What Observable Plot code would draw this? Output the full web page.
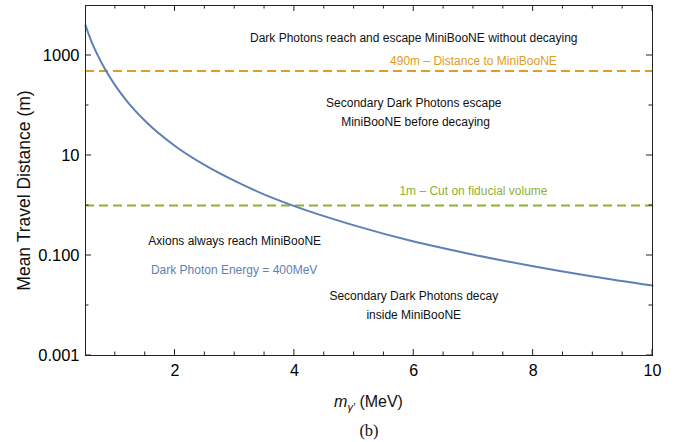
<!DOCTYPE html>
<html><head><meta charset="utf-8">
<script src="https://cdn.jsdelivr.net/npm/d3@7"></script>
<script src="https://cdn.jsdelivr.net/npm/@observablehq/plot@0.6"></script>
<style>
body{margin:0;background:#fff}
svg{font-family:"Liberation Sans",Arial,sans-serif}
</style>
</head><body><div id="c"></div>
<script>
// Curve: dark photon mass (MeV) vs mean travel distance (m)
const massMeV = [0.5, 0.6, 0.7, 0.8, 1.0, 1.2, 1.5, 2.0, 2.5, 3.0, 3.5, 4.0, 5.0, 6.0, 7.0, 8.0, 9.0, 10.0];
const travelDistance = [4000, 1900, 1040, 610, 250, 120, 49, 15.5, 6.4, 3.1, 1.65, 0.97, 0.40, 0.19, 0.104, 0.061, 0.038, 0.025];

// Reference lines
const refValues = [490, 1];
const refLabels = ["490m \u2013 Distance to MiniBooNE", "1m \u2013 Cut on fiducial volume"];

// Axis ticks
const xTicks = [2, 4, 6, 8, 10];
const xMinorTicks = [1, 1.5, 2.5, 3, 3.5, 4.5, 5, 5.5, 6.5, 7, 7.5, 8.5, 9, 9.5];
const yTicks = [0.001, 0.1, 10, 1000];
const yTickLabels = ["0.001", "0.100", "10", "1000"];
const yMinorTicks = [0.01, 1, 100];

// Annotations (text, anchor mass, anchor distance)
const noteText = [
  "Dark Photons reach and escape MiniBooNE without decaying",
  "Secondary Dark Photons escape",
  "MiniBooNE before decaying",
  "Axions always reach MiniBooNE",
  "Dark Photon Energy = 400MeV",
  "Secondary Dark Photons decay",
  "inside MiniBooNE"
];
const noteMass = [6.0, 6.0, 6.03, 3.0, 2.99, 6.0, 6.0];
const noteDist = [2188, 111, 46, 0.193, 0.05, 0.0151, 0.0063];
const noteKind = ["plain", "plain", "plain", "plain", "energy", "plain", "plain"];
const refLabelMass = [7.0, 7.0];
const refLabelDist = [769, 1.93];

const BLUE = "#5E81B5", ORANGE = "#E19C24", GREEN = "#8FB032";
const refColors = [ORANGE, GREEN];

const curve = massMeV.map((m, i) => ({m, d: travelDistance[i]}));
const refs = refValues.map((v, i) => ({v, label: refLabels[i], lm: refLabelMass[i], ld: refLabelDist[i], color: refColors[i]}));
const notes = noteText.map((t, i) => ({t, m: noteMass[i], d: noteDist[i], kind: noteKind[i]}));
const yLabelMap = new Map(yTicks.map((v, i) => [v, yTickLabels[i]]));

const chart = Plot.plot({
  width: 688,
  height: 442,
  marginLeft: 85,
  marginRight: 36,
  marginTop: 5,
  marginBottom: 87,
  style: {fontFamily: "'Liberation Sans', Arial, sans-serif", fontSize: "16px", color: "#000", background: "#fff"},
  x: {domain: [0.5, 10]},
  y: {type: "log", domain: [0.001, 10000]},
  marks: [
    Plot.axisX(xTicks, {tickSize: 0, tickPadding: 9, fontSize: 16, label: null, tickFormat: d => String(d)}),
    Plot.axisY(yTicks, {tickSize: 0, tickPadding: 6, fontSize: 16.5, label: null, tickFormat: d => yLabelMap.get(d)}),
    Plot.ruleY(refs, {y: "v", stroke: "color", strokeWidth: 2, strokeDasharray: "9,5"}),
    Plot.line(curve, {x: "m", y: "d", stroke: BLUE, strokeWidth: 2, curve: "monotone-x"}),
    Plot.text(refs, {x: "lm", y: "ld", text: "label", fill: "color", fontSize: 12}),
    Plot.text(notes, {x: "m", y: "d", text: "t", fill: d => d.kind === "energy" ? BLUE : "#111", fontSize: 12}),
    Plot.text(["Mean Travel Distance (m)"], {frameAnchor: "left", textAnchor: "middle", lineAnchor: "middle", dx: -61, dy: 10, rotate: -90, fontSize: 17.5, fill: "#111"}),
    Plot.text(["(b)"], {frameAnchor: "bottom", textAnchor: "middle", lineAnchor: "middle", dy: 75, fontSize: 16.5, fontFamily: "'Liberation Serif', 'DejaVu Serif', serif", fill: "#111"}),
    Plot.frame({stroke: "#222", strokeWidth: 1})
  ]
});

document.getElementById("c").appendChild(chart);

// Inward ticks on all four sides, positioned through Plot's scales
const xs = chart.scale("x"), ys = chart.scale("y");
const svgSel = d3.select(chart);
const tickG = svgSel.append("g").attr("stroke", "#222").attr("stroke-width", 1);
const frameTop = 5, frameBottom = 355, frameLeft = 85, frameRight = 652;
function xt(v, len) {
  const px = xs.apply(v);
  tickG.append("line").attr("x1", px).attr("x2", px).attr("y1", frameBottom).attr("y2", frameBottom - len);
  tickG.append("line").attr("x1", px).attr("x2", px).attr("y1", frameTop).attr("y2", frameTop + len);
}
function yt(v, len) {
  const py = ys.apply(v);
  tickG.append("line").attr("y1", py).attr("y2", py).attr("x1", frameLeft).attr("x2", frameLeft + len);
  tickG.append("line").attr("y1", py).attr("y2", py).attr("x1", frameRight).attr("x2", frameRight - len);
}
xTicks.forEach(v => xt(v, 6));
xMinorTicks.forEach(v => xt(v, 3.5));
yTicks.forEach(v => yt(v, 6));
yMinorTicks.forEach(v => yt(v, 3.5));

// x-axis label with italic m and subscript gamma-prime
const xl = svgSel.append("text")
  .attr("x", (xs.apply(0.5) + xs.apply(10)) / 2)
  .attr("y", 407)
  .attr("text-anchor", "middle")
  .attr("font-size", 16)
  .attr("fill", "#111");
xl.append("tspan").attr("font-style", "italic").text("m");
xl.append("tspan").attr("font-style", "italic").attr("font-size", 11).attr("dy", 4).text("\u03B3\u2032");
xl.append("tspan").attr("dy", -4).text(" (MeV)");
</script>
</body></html>
